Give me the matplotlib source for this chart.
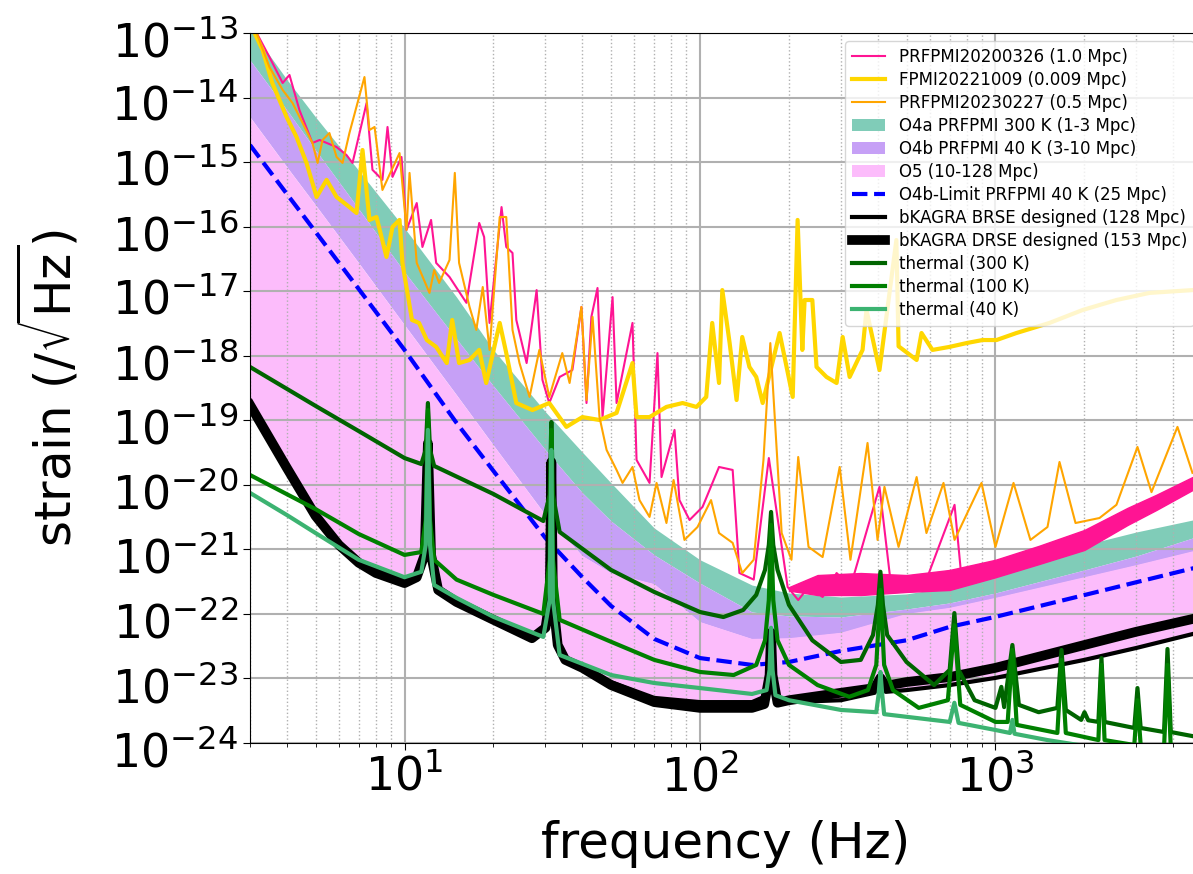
import matplotlib.pyplot as plt
import matplotlib.transforms as mtransforms
import numpy as np
from matplotlib.ticker import NullLocator

# design bands, O4b limit (Hz / strain per rtHz)
band_f = [3, 4, 5, 7, 10, 15, 20, 30, 40, 50, 70, 100, 150, 200, 300, 500, 700, 1000, 2000, 3000, 5000]
o4a_top = [1.19e-13, 1.90e-14, 5.0e-15, 7.4e-16, 9.5e-17, 8.1e-18, 1.23e-18, 1.35e-19, 3.2e-20, 1.07e-20, 2.14e-21,
           6.9e-22, 2.8e-22, 2.11e-22, 1.83e-22, 2.04e-22, 2.61e-22, 3.7e-22, 1.17e-21, 1.86e-21, 3.06e-21]
o4b_top = [3.8e-14, 6.4e-15, 1.54e-15, 1.88e-16, 1.98e-17, 1.82e-18, 3.4e-19, 3.47e-20, 7.5e-21, 2.75e-21, 8.2e-22,
           3.0e-22, 1.07e-22, 9.3e-23, 8.95e-23, 1.19e-22, 1.48e-22, 2.11e-22, 4.8e-22, 7.9e-22, 1.67e-21]
o5_top = [5.0e-15, 8.4e-16, 2.16e-16, 2.74e-17, 3.0e-18, 2.47e-19, 4.1e-20, 3.4e-21, 7.9e-22, 4.3e-22, 2.9e-22,
          7.5e-23, 4.1e-23, 4.2e-23, 5.1e-23, 1.0e-22, 1.24e-22, 1.77e-22, 3.7e-22, 5.7e-22, 1.01e-21]
limit_h = [1.84e-15, 3.2e-16, 8.3e-17, 1.08e-17, 1.23e-18, 9.1e-20, 1.64e-20, 1.50e-21, 3.7e-22, 1.33e-22, 4.1e-23,
           2.07e-23, 1.62e-23, 1.80e-23, 2.67e-23, 3.9e-23, 6.3e-23, 9.0e-23, 1.96e-22, 3.1e-22, 5.5e-22]

# bKAGRA designs
bk_f = [3, 4, 5, 6, 7, 8, 10, 11, 11.7, 12, 12.3, 13, 15, 20, 27, 30, 31, 31.4, 31.8, 33, 35, 40, 50, 70,
        100, 150, 165, 172, 174, 176, 183, 200, 300, 390, 408, 425, 500, 700, 1000, 2000, 3000, 5000]
brse_h = [1.73e-19, 1.82e-20, 3.3e-21, 1.17e-21, 6.2e-22, 4.3e-22, 3.0e-22, 3.7e-22, 8.2e-22, 4.4e-20, 8.2e-22,
          2.35e-22, 1.53e-22, 8.1e-23, 4.2e-23, 6.1e-23, 1.64e-22, 2.26e-20, 1.64e-22, 3.3e-23, 1.94e-23, 1.46e-23,
          8.8e-24, 5.0e-24, 4.3e-24, 4.3e-24, 5.2e-24, 1.13e-23, 5.1e-23, 1.13e-23, 4.6e-24, 4.3e-24, 4.6e-24,
          6.0e-24, 1.02e-23, 6.2e-24, 6.6e-24, 7.9e-24, 1.02e-23, 1.94e-23, 2.97e-23, 5.3e-23]
drse_h = [1.73e-19, 1.82e-20, 3.3e-21, 1.17e-21, 6.2e-22, 4.3e-22, 3.0e-22, 3.7e-22, 8.2e-22, 4.4e-20, 8.2e-22,
          2.35e-22, 1.53e-22, 8.1e-23, 4.2e-23, 6.1e-23, 1.64e-22, 2.26e-20, 1.64e-22, 3.3e-23, 1.94e-23, 1.46e-23,
          7.9e-24, 4.3e-24, 3.5e-24, 3.5e-24, 4.0e-24, 1.13e-23, 5.1e-23, 1.13e-23, 4.2e-24, 4.6e-24, 6.0e-24,
          7.1e-24, 1.02e-23, 7.7e-24, 8.8e-24, 1.05e-23, 1.46e-23, 3.3e-23, 5.3e-23, 9.0e-23]

# thermal noise
t300_f = [3, 5, 7, 10, 11.4, 11.8, 12, 12.2, 12.6, 20, 29.5, 31.0, 31.4, 31.8, 33.5, 50, 70, 100, 120, 140,
          155, 166, 171, 174, 177, 183, 200, 240, 300, 350, 385, 400, 408, 416, 430, 500, 620, 700, 726, 750,
          850, 1000, 1047, 1070, 1141, 1200, 1400, 1620, 1673, 1730, 1950, 2001, 2060, 2230, 2284, 2340, 2950,
          3024, 3100, 3720, 3821, 3920, 5000]
t300_h = [6.7e-19, 1.67e-19, 6.8e-20, 2.6e-20, 2.1e-20, 3.47e-20, 1.85e-19, 3.47e-20, 1.96e-20, 7.2e-21,
          2.75e-21, 7.0e-21, 9.4e-20, 7.0e-21, 1.86e-21, 4.8e-22, 2.19e-22, 1.07e-22, 8.95e-23, 1.15e-22,
          1.97e-22, 4.8e-22, 1.17e-21, 3.8e-21, 1.17e-21, 4.8e-22, 1.38e-22, 3.9e-23, 1.80e-23, 1.94e-23,
          4.7e-23, 1.38e-22, 4.5e-22, 1.38e-22, 4.7e-23, 1.80e-23, 7.9e-24, 1.36e-23, 1.03e-22, 1.36e-23,
          4.6e-24, 3.5e-24, 7.4e-24, 3.6e-24, 3.3e-23, 3.9e-24, 3.0e-24, 3.5e-24, 2.76e-23, 3.25e-24,
          2.28e-24, 3.0e-24, 2.25e-24, 2.12e-24, 2.07e-23, 2.12e-24, 1.71e-24, 7.1e-24, 1.71e-24, 1.48e-24,
          2.86e-23, 1.48e-24, 1.20e-24]
t100_f = [3, 5, 7, 10, 11.4, 11.8, 12, 12.2, 12.6, 15, 20, 29.5, 31.0, 31.4, 31.8, 33.5, 50, 70, 100, 130,
          155, 166, 171, 174, 177, 183, 200, 250, 320, 370, 395, 408, 420, 450, 550, 690, 726, 760, 1000, 1100,
          1141, 1180, 1620, 1673, 1730, 2230, 2284, 2340, 2950, 3024, 3100, 3720, 3821, 3920, 5000]
t100_h = [1.42e-20, 4.2e-21, 1.73e-21, 8.2e-22, 9.1e-22, 2.85e-21, 1.44e-19, 2.85e-21, 6.9e-22, 3.4e-22,
          1.97e-22, 1.0e-22, 6.9e-22, 7.1e-20, 6.9e-22, 8.1e-23, 3.7e-23, 1.94e-23, 1.26e-23, 1.13e-23,
          1.62e-23, 3.9e-23, 1.64e-22, 2.39e-21, 1.64e-22, 3.9e-23, 1.62e-23, 7.9e-24, 5.2e-24, 6.6e-24,
          1.62e-23, 2.35e-22, 1.62e-23, 6.6e-24, 3.5e-24, 4.6e-24, 6.7e-23, 3.9e-24, 2.12e-24, 2.12e-24,
          2.76e-23, 1.91e-24, 1.43e-24, 1.94e-23, 1.43e-24, 1.11e-24, 1.62e-23, 1.11e-24, 9.3e-25, 4.6e-24,
          9.3e-25, 8.4e-25, 1.62e-23, 8.4e-25, 7.3e-25]
t40_f = [3, 4, 5, 7, 10, 11.4, 11.8, 12, 12.2, 12.6, 15, 20, 29.5, 31.0, 31.4, 31.8, 33.5, 50, 70, 100,
         150, 168, 172, 174, 176, 180, 200, 300, 395, 402, 408, 414, 420, 700, 726, 750, 1000, 1120, 1141, 1160,
         1500, 2000, 3000, 5000]
t40_h = [7.5e-21, 3.4e-21, 1.79e-21, 6.9e-22, 3.7e-22, 4.5e-22, 1.17e-21, 7.1e-20, 1.17e-21, 2.8e-22,
         1.77e-22, 9.0e-23, 4.4e-23, 1.64e-22, 3.47e-20, 1.64e-22, 2.31e-23, 1.13e-23, 8.5e-24, 7.1e-24,
         5.75e-24, 6.6e-24, 1.36e-23, 6.1e-23, 1.36e-23, 5.5e-24, 4.6e-24, 3.25e-24, 3.0e-24, 5.5e-24,
         1.26e-23, 5.5e-24, 2.8e-24, 2.12e-24, 4.2e-24, 2.05e-24, 1.59e-24, 1.43e-24, 2.28e-24, 1.39e-24,
         1.11e-24, 9.0e-25, 7.3e-25, 5.5e-25]

# measured spectra
pink_f = [3.16, 3.49, 3.87, 4.08, 4.41, 4.88, 5.16, 5.89, 6.36, 6.67, 7.44, 7.79, 8.42, 8.76, 9.11, 9.77, 10.16,
          11.0, 11.5, 12.3, 12.8, 14.2, 16.2, 17.9, 18.6, 19.4, 21.3, 22.1, 23.2, 23.9, 25.9, 28.0, 29.3, 30.9,
          33.5, 37.0, 39.7, 41.3, 42.9, 45.0, 46.8, 50.6, 52.2, 59.1, 61.0, 67.5, 71.8, 74.1, 82.0, 85.2, 92.2,
          102, 116, 129, 136, 152, 171, 198, 215, 233, 260, 290, 323, 405, 445, 512, 584, 727, 767, 1000, 1313,
          1712, 2249, 2954, 3373, 3850, 4642]
pink_h = [1.0e-13, 4.25e-14, 1.68e-14, 2.24e-14, 6.4e-15, 1.98e-15, 2.2e-15, 1.71e-15, 1.29e-15, 9.7e-16,
          8.2e-15, 7.6e-16, 5.3e-16, 3.5e-15, 5.9e-16, 1.2e-15, 8.9e-17, 2.32e-16, 4.84e-17, 1.27e-16,
          2.74e-17, 1.66e-17, 6.6e-18, 1.14e-16, 6.9e-17, 3.22e-18, 2.01e-16, 4.84e-17, 3.91e-17, 3.58e-18,
          7.7e-19, 1.04e-17, 4.21e-19, 1.85e-19, 4.69e-19, 6.0e-19, 5.7e-18, 1.85e-19, 4.0e-18, 1.12e-17,
          1.12e-19, 8.1e-18, 1.85e-19, 3.22e-18, 2.43e-20, 1.07e-20, 1.10e-18, 1.32e-20, 7.1e-20, 5.8e-21,
          2.85e-21, 4.54e-21, 1.89e-20, 1.70e-20, 4.3e-22, 3.4e-22, 2.6e-20, 2.61e-22, 1.64e-22, 2.61e-22,
          1.83e-22, 4.3e-22, 2.61e-22, 9.3e-21, 2.35e-22, 2.8e-22, 3.4e-22, 4.9e-21, 3.7e-22, 5.15e-22,
          7.6e-22, 1.13e-21, 2.0e-21, 3.8e-21, 5.2e-21, 7.5e-21, 1.07e-20]
# spread of the 2020 noise floor above 200 Hz
pink_floor_f = [200, 250, 350, 500, 700, 1000, 1400, 2000, 2800, 3500, 4642]
pink_floor_lo = [2.3e-22, 1.96e-22, 1.96e-22, 2.19e-22, 2.35e-22, 3.7e-22, 5.9e-22, 9.8e-22, 2.39e-21, 4.07e-21, 8.3e-21]
pink_floor_hi = [2.6e-22, 4.0e-22, 4.3e-22, 4.0e-22, 4.8e-22, 6.9e-22, 1.13e-21, 2.0e-21, 4.4e-21, 7.0e-21, 1.32e-20]
gold_f = [3.11, 3.31, 3.57, 3.99, 4.31, 4.66, 5.04, 5.45, 5.89, 6.51, 6.88, 7.21, 7.61, 8.04, 8.69, 9.11, 9.62,
          9.84, 10.6, 11.2, 11.9, 12.8, 13.9, 14.5, 15.3, 16.6, 17.9, 18.9, 21.0, 22.1, 23.9, 27.1, 30.9, 35.3,
          40.0, 45.7, 52.2, 59.1, 61.0, 67.5, 77.0, 87.3, 97.3, 105, 110, 116, 119, 126, 133, 139, 147, 155,
          163, 186, 206, 214, 222, 226, 240, 248, 268, 290, 304, 321, 355, 366, 405, 462, 470, 541, 562, 612,
          699, 798, 904, 1008, 1178, 1523, 1970, 2567, 3320, 4642]
gold_h = [1.0e-13, 5.45e-14, 1.68e-14, 5.0e-15, 2.45e-15, 9.7e-16, 2.88e-16, 5.3e-16, 2.88e-16, 2.01e-16,
          1.63e-16, 1.54e-15, 1.27e-16, 1.41e-16, 3.39e-17, 9.9e-17, 1.27e-16, 2.74e-17, 3.58e-18, 3.22e-18,
          1.75e-18, 1.37e-18, 7.7e-19, 3.58e-18, 7.7e-19, 8.6e-19, 1.23e-18, 3.78e-19, 3.22e-18, 1.10e-18,
          1.85e-19, 1.44e-19, 1.85e-19, 7.9e-20, 1.12e-19, 1.01e-19, 1.30e-19, 7.7e-19, 1.12e-19, 1.12e-19,
          1.61e-19, 1.85e-19, 1.61e-19, 2.30e-19, 3.22e-18, 3.78e-19, 1.04e-17, 1.57e-18, 2.06e-19, 1.95e-18,
          6.7e-19, 4.69e-19, 1.85e-19, 2.25e-18, 2.30e-19, 1.27e-16, 1.23e-18, 7.3e-18, 7.3e-18, 6.7e-19,
          4.69e-19, 3.78e-19, 1.95e-18, 4.69e-19, 1.23e-18, 5.1e-18, 6.0e-19, 6.2e-17, 1.4e-18, 8.6e-19,
          2.25e-18, 1.23e-18, 1.37e-18, 1.57e-18, 1.75e-18, 1.75e-18, 2.25e-18, 3.22e-18, 5.1e-18, 7.3e-18,
          9.4e-18, 1.04e-17]
orange_f = [3.16, 3.49, 3.87, 4.18, 4.52, 4.88, 5.08, 5.28, 5.57, 5.89, 6.17, 6.51, 7.32, 7.61, 7.92, 8.42, 9.62,
            10.16, 10.4, 11.0, 12.15, 12.6, 13.1, 14.2, 14.8, 15.3, 16.6, 17.5, 18.4, 19.4, 21.0, 22.1, 23.2,
            24.5, 26.5, 28.6, 30.9, 34.2, 36.2, 39.7, 41.3, 43.3, 45.7, 48.3, 52.2, 54.7, 59.1, 62.4, 67.5,
            71.3, 77.0, 81.4, 88.6, 98.1, 109, 116, 129, 139, 152, 164, 173, 189, 204, 215, 233, 260, 297, 323,
            369, 399, 421, 470, 541, 584, 667, 727, 897, 1000, 1151, 1313, 1500, 1647, 1866, 2249, 2567, 3024,
            3373, 4130, 4642]
orange_h = [1.0e-13, 2.97e-14, 1.31e-14, 8.2e-15, 4.04e-15, 1.98e-15, 9.7e-16, 2.20e-15, 2.82e-15, 1.20e-15,
            9.7e-16, 2.82e-15, 2.08e-14, 3.14e-15, 3.50e-15, 3.7e-16, 1.38e-15, 8.9e-17, 6.8e-16, 2.74e-17,
            9.4e-18, 2.13e-17, 1.34e-17, 3.04e-17, 6.8e-16, 2.74e-17, 5.7e-18, 2.51e-18, 1.16e-17, 1.23e-18,
            1.41e-16, 1.41e-16, 2.51e-18, 7.7e-19, 2.30e-19, 1.23e-18, 2.30e-19, 1.10e-18, 3.78e-19, 5.7e-18,
            2.06e-19, 4.0e-18, 1.12e-19, 3.47e-20, 1.70e-20, 1.07e-20, 1.89e-20, 5.8e-21, 3.18e-21, 1.07e-20,
            2.56e-21, 1.19e-20, 1.40e-21, 2.22e-21, 5.8e-21, 1.79e-21, 1.26e-21, 4.3e-22, 6.9e-22, 2.43e-20,
            1.57e-18, 1.79e-21, 6.9e-22, 2.70e-20, 1.09e-21, 7.6e-22, 1.89e-20, 6.9e-22, 4.45e-20, 1.40e-21,
            9.3e-21, 1.09e-21, 1.32e-20, 1.79e-21, 1.07e-20, 1.40e-21, 1.07e-20, 1.09e-21, 1.07e-20, 1.40e-21,
            2.22e-21, 2.26e-20, 2.56e-21, 3.06e-21, 4.9e-21, 3.86e-20, 7.7e-21, 7.9e-20, 1.53e-20]

# y tick positions: every decade from 1e-24 to 1e-13
strain_ticks = [1e-24, 1e-23, 1e-22, 1e-21, 1e-20, 1e-19, 1e-18, 1e-17, 1e-16, 1e-15, 1e-14, 1e-13]

fig = plt.figure(figsize=(11.93, 8.74), dpi=100)
ax = fig.add_axes([250 / 1193, 131 / 874, 952 / 1193, 710 / 874])
ax.set_xscale('log')
ax.set_yscale('log')

h_o4a = ax.fill_between(band_f, o4b_top, o4a_top, color='#80ccb8', lw=0, label='O4a PRFPMI 300 K (1-3 Mpc)')
h_o4b = ax.fill_between(band_f, o5_top, o4b_top, color='#c6a0f6', lw=0, label='O4b PRFPMI 40 K (3-10 Mpc)')
h_o5 = ax.fill(band_f + bk_f[::-1], o5_top + brse_h[::-1], color='#fcbcfb', lw=0, label='O5 (10-128 Mpc)')[0]

h_pink, = ax.plot(pink_f, pink_h, color='deeppink', lw=1.5, label='PRFPMI20200326 (1.0 Mpc)')
ax.fill_between(pink_floor_f, pink_floor_lo, pink_floor_hi, color='deeppink', lw=1.0, zorder=2)
h_gold, = ax.plot(gold_f, gold_h, color='gold', lw=3, label='FPMI20221009 (0.009 Mpc)')
h_orange, = ax.plot(orange_f, orange_h, color='orange', lw=1.5, label='PRFPMI20230227 (0.5 Mpc)')
h_lim, = ax.plot(band_f, limit_h, '--', color='blue', lw=3, label='O4b-Limit PRFPMI 40 K (25 Mpc)')
h_brse, = ax.plot(bk_f, brse_h, color='black', lw=3, label='bKAGRA BRSE designed (128 Mpc)')
h_drse, = ax.plot(bk_f, drse_h, color='black', lw=7, label='bKAGRA DRSE designed (153 Mpc)')
h_t300, = ax.plot(t300_f, t300_h, color='darkgreen', lw=3, label='thermal (300 K)')
h_t100, = ax.plot(t100_f, t100_h, color='green', lw=3, label='thermal (100 K)')
h_t40, = ax.plot(t40_f, t40_h, color='mediumseagreen', lw=3, label='thermal (40 K)')

ax.set_xlim(3, 5000)
ax.set_ylim(1e-24, 1e-13)
ax.set_yticks(strain_ticks)
ax.yaxis.set_minor_locator(NullLocator())
ax.grid(True, which='major', color='#b0b0b0', lw=1.5)
ax.grid(True, which='minor', axis='x', ls=':', color='#b0b0b0', lw=1.0)
ax.tick_params(which='major', labelsize=33, length=5)
ax.tick_params(which='minor', length=3)

ax.set_xlabel('frequency (Hz)', fontsize=36, labelpad=14)
ax.set_ylabel(r'strain (/$\sqrt{\rm Hz}$)', fontsize=36, labelpad=22)

handles = [h_pink, h_gold, h_orange, h_o4a, h_o4b, h_o5, h_lim, h_brse, h_drse, h_t300, h_t100, h_t40]
ax.legend(handles=handles, loc='upper right', fontsize=12, labelspacing=0.3)

# push the y tick labels a little down so the top one stays inside the figure
fig.canvas.draw()
shift = mtransforms.ScaledTranslation(0, -4 / 72, fig.dpi_scale_trans)
for tick in ax.yaxis.get_major_ticks():
    tick.label1.set_transform(tick.label1.get_transform() + shift)

fig.savefig('out.png', dpi=100)
